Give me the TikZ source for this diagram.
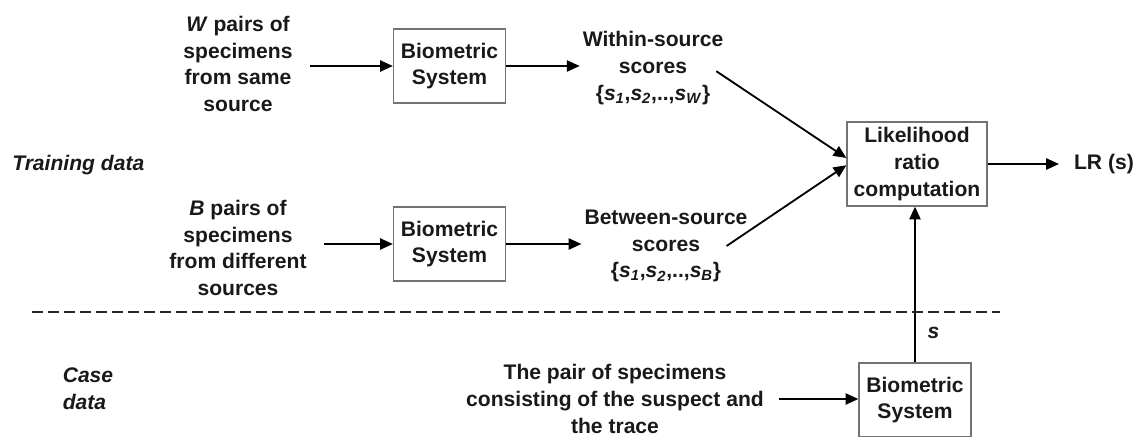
\documentclass[tikz,border=0pt]{standalone}
\usepackage{fontspec}
\setmainfont{Liberation Sans}
\usepackage{tikz}
\usetikzlibrary{arrows.meta, positioning}

\newcommand{\sscore}[1]{\textit{s}\textsubscript{\textit{#1}}}

\begin{document}
\begin{tikzpicture}[
    x=0.025cm, y=-0.025cm,
    every node/.style={font=\fontsize{15}{19}\selectfont\bfseries, text=black!90},
    biobox/.style={rectangle, draw=black!55, line width=0.9pt, minimum width=2.8cm, minimum height=1.85cm, align=center, inner sep=2pt},
    lrbox/.style={rectangle, draw=black!55, line width=0.9pt, minimum width=3.5cm, minimum height=2.1cm, align=center, inner sep=2pt},
    txt/.style={align=center, inner sep=2pt},
    sidetxt/.style={align=left, inner sep=0pt, font=\fontsize{15}{19}\selectfont\bfseries\itshape},
    arr/.style={-{Triangle[length=3.2mm, width=2.8mm]}, line width=1.3pt},
    sepline/.style={line width=1.5pt, black!85, dash pattern=on 2.75mm off 1.25mm}
]
\useasboundingbox (0,0) rectangle (1137,436);

% Training data
\node[sidetxt, anchor=west] (train) at (12,165) {Training data};
\node[txt] (wpairs) at (238,64) {\textit{W} pairs of\\specimens\\from same\\source};
\node[txt] (bpairs) at (238,248) {\textit{B} pairs of\\specimens\\from different\\sources};
\node[biobox] (bio1) at (449.5,66) {Biometric\\System};
\node[biobox] (bio2) at (449.5,244) {Biometric\\System};
\node[txt] (within) at (653,68) {Within-source\\scores\\\{\sscore{1},\sscore{2},..,\sscore{W}\}};
\node[txt] (between) at (666,246) {Between-source\\scores\\\{\sscore{1},\sscore{2},..,\sscore{B}\}};
\node[lrbox] (lr) at (917,164) {Likelihood\\ratio\\computation};
\node[txt, anchor=west] (out) at (1071,164) {LR (s)};

% Case data
\node[sidetxt, align=left] (case) at (88,389) {Case\\data};
\node[txt] (pair) at (615,399) {The pair of specimens\\consisting of the suspect and\\the trace};
\node[biobox] (bio3) at (915,400) {Biometric\\System};

% Arrows
\draw[arr, shorten <=0.35cm] (wpairs.east |- bio1.west) -- (bio1.west);
\draw[arr, shorten <=0.35cm] (bpairs.east |- bio2.west) -- (bio2.west);
\draw[arr] (bio1.east) -- (within.west |- bio1.east);
\draw[arr] (bio2.east) -- (between.west |- bio2.east);
\draw[arr] ([xshift=-0.25cm, yshift=-0.08cm]within.east) -- ([yshift=0.15cm]lr.west);
\draw[arr] ([xshift=-0.6cm]between.east) -- ([yshift=-0.03cm]lr.west);
\draw[arr, shorten >=0.3cm] (lr.east) -- (out.west);
\draw[arr, shorten <=0.3cm] (pair.east) -- (bio3.west |- pair.east);
\draw[arr] (bio3.north) -- node[pos=0.19, right=5pt, font=\fontsize{15}{19}\selectfont\bfseries\itshape] (sval) {s} (bio3.north |- lr.south);

% Separator
\coordinate (sepL) at (32,312);
\coordinate (sepR) at (1000,312);
\draw[sepline] (sepL) -- (sepR);
\end{tikzpicture}
\end{document}
